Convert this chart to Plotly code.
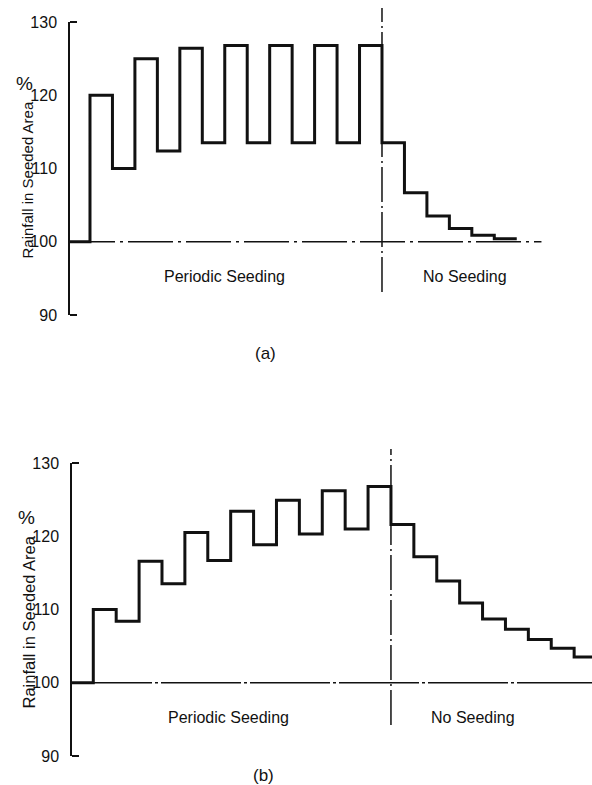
import plotly.graph_objects as go

# ---------------- data ----------------
# (a) periodic seeding, strong response
a_pre = [100]
a_seeded = [120, 110, 125, 112.4, 126.4, 113.5, 126.8, 113.5, 126.8, 113.5, 126.8, 113.5, 126.8]
a_noseed = [113.5, 106.7, 103.5, 101.8, 100.9, 100.4]

# (b) periodic seeding, gradual response
b_pre = [100]
b_seeded = [110, 108.4, 116.6, 113.5, 120.5, 116.7, 123.4, 118.85, 124.9, 120.3, 126.2, 121.0, 126.8]
b_noseed = [121.6, 117.2, 113.9, 110.9, 108.7, 107.3, 105.9, 104.7, 103.5]

y_ticks = [90, 100, 110, 120, 130]
y_labels = ["90", "100", "110", "120", "130"]

a_start, b_start = -0.89, -0.93      # start of pre-seeding interval
baseline = 100
switch_step = 13                     # seeding stops after 13 intervals
a_base_end = 20.1
a_xrange = [a_start, 22.35]
b_xrange = [b_start, 21.78]

label_periodic = "Periodic Seeding"
label_none = "No Seeding"
ytitle = "Rainfall in Seeded Area"

FONT = "Liberation Sans, Arial, sans-serif"


def step_xy(start, pre, seeded, noseed, tail_end=None):
    vals = pre + seeded + noseed
    xs = [start] + list(range(0, len(seeded) + len(noseed)))
    end = tail_end if tail_end is not None else len(seeded) + len(noseed)
    xs = xs + [end]
    ys = vals + [vals[-1]]
    return xs, ys


fig = go.Figure()

xa, ya = step_xy(a_start, a_pre, a_seeded, a_noseed)
xb, yb = step_xy(b_start, b_pre, b_seeded, b_noseed, tail_end=23)

fig.add_trace(go.Scatter(x=xa, y=ya, mode="lines", line=dict(shape="hv", color="#111", width=3),
                         xaxis="x", yaxis="y", showlegend=False, hoverinfo="skip"))
fig.add_trace(go.Scatter(x=xb, y=yb, mode="lines", line=dict(shape="hv", color="#111", width=3),
                         xaxis="x2", yaxis="y2", showlegend=False, hoverinfo="skip"))

yaxis_common = dict(range=[y_ticks[0], y_ticks[-1]], tickvals=y_ticks, ticktext=y_labels,
                    ticks="", showline=True, linecolor="#111", linewidth=1.5, automargin=False,
                    showgrid=False, zeroline=False, ticklabelstandoff=8,
                    tickfont=dict(family=FONT, size=16, color="#111"),
                    minor=dict(tickvals=[y_ticks[0], y_ticks[-1]], ticks="inside", ticklen=7,
                               tickwidth=1.5, tickcolor="#111", showgrid=False))

fig.update_layout(
    template="none",
    width=592, height=785, margin=dict(l=0, r=0, t=0, b=0, pad=0),
    paper_bgcolor="white", plot_bgcolor="white",
    xaxis=dict(domain=[70 / 592, 1], range=a_xrange, visible=False, anchor="y", automargin=False),
    yaxis=dict(domain=[1 - 315 / 785, 1 - 22 / 785], anchor="x", **yaxis_common),
    xaxis2=dict(domain=[72 / 592, 1], range=b_xrange, visible=False, anchor="y2", automargin=False),
    yaxis2=dict(domain=[1 - 756 / 785, 1 - 463 / 785], anchor="x2", **yaxis_common),
)

# baselines
fig.add_shape(type="line", xref="x", yref="y", x0=a_start, x1=a_base_end, y0=baseline, y1=baseline,
              line=dict(color="#111", width=1.5, dash="45px,5px,3px,5px"))
fig.add_shape(type="line", xref="x2", yref="y2", x0=b_start, x1=b_xrange[1], y0=baseline, y1=baseline,
              line=dict(color="#111", width=1.5, dash="80px,3px,3px,3px"))

# seeding / no seeding divider
fig.add_shape(type="line", xref="x", yref="paper", x0=switch_step, x1=switch_step,
              y0=1 - 292 / 785, y1=1 - 8 / 785,
              line=dict(color="#111", width=1.5, dash="35px,4px,2px,4px"))
fig.add_shape(type="line", xref="x2", yref="paper", x0=switch_step, x1=switch_step,
              y0=1 - 725 / 785, y1=1 - 449 / 785,
              line=dict(color="#111", width=1.5, dash="35px,4px,2px,4px"))

txt = dict(family=FONT, size=16, color="#111")
for xr, yr, xp, xn in (("x", "y", 6.0, 16.7), ("x2", "y2", 5.9, 16.6)):
    fig.add_annotation(x=xp, y=95.2, xref=xr, yref=yr, text=label_periodic, showarrow=False, font=txt,
                       xanchor="center", yanchor="middle")
    fig.add_annotation(x=xn, y=95.2, xref=xr, yref=yr, text=label_none, showarrow=False, font=txt,
                       xanchor="center", yanchor="middle")


def paper_text(px, py, text, size, angle=0):
    fig.add_annotation(x=px / 592, y=1 - py / 785, xref="paper", yref="paper", text=text,
                       textangle=angle, showarrow=False, xanchor="center", yanchor="middle",
                       font=dict(family=FONT, size=size, color="#111"))


# panel labels
paper_text(265, 353, "(a)", 17)
paper_text(263, 775, "(b)", 17)

# y-axis titles
paper_text(27, 180.5, ytitle, 15, -90)
paper_text(28, 622.5, ytitle, 16.5, -90)
paper_text(24, 84, "%", 19)
paper_text(26, 517, "%", 19)

fig.write_html("out.html", config={"displayModeBar": False},
               post_script="document.body.style.margin='0px';document.body.style.overflow='hidden';")
